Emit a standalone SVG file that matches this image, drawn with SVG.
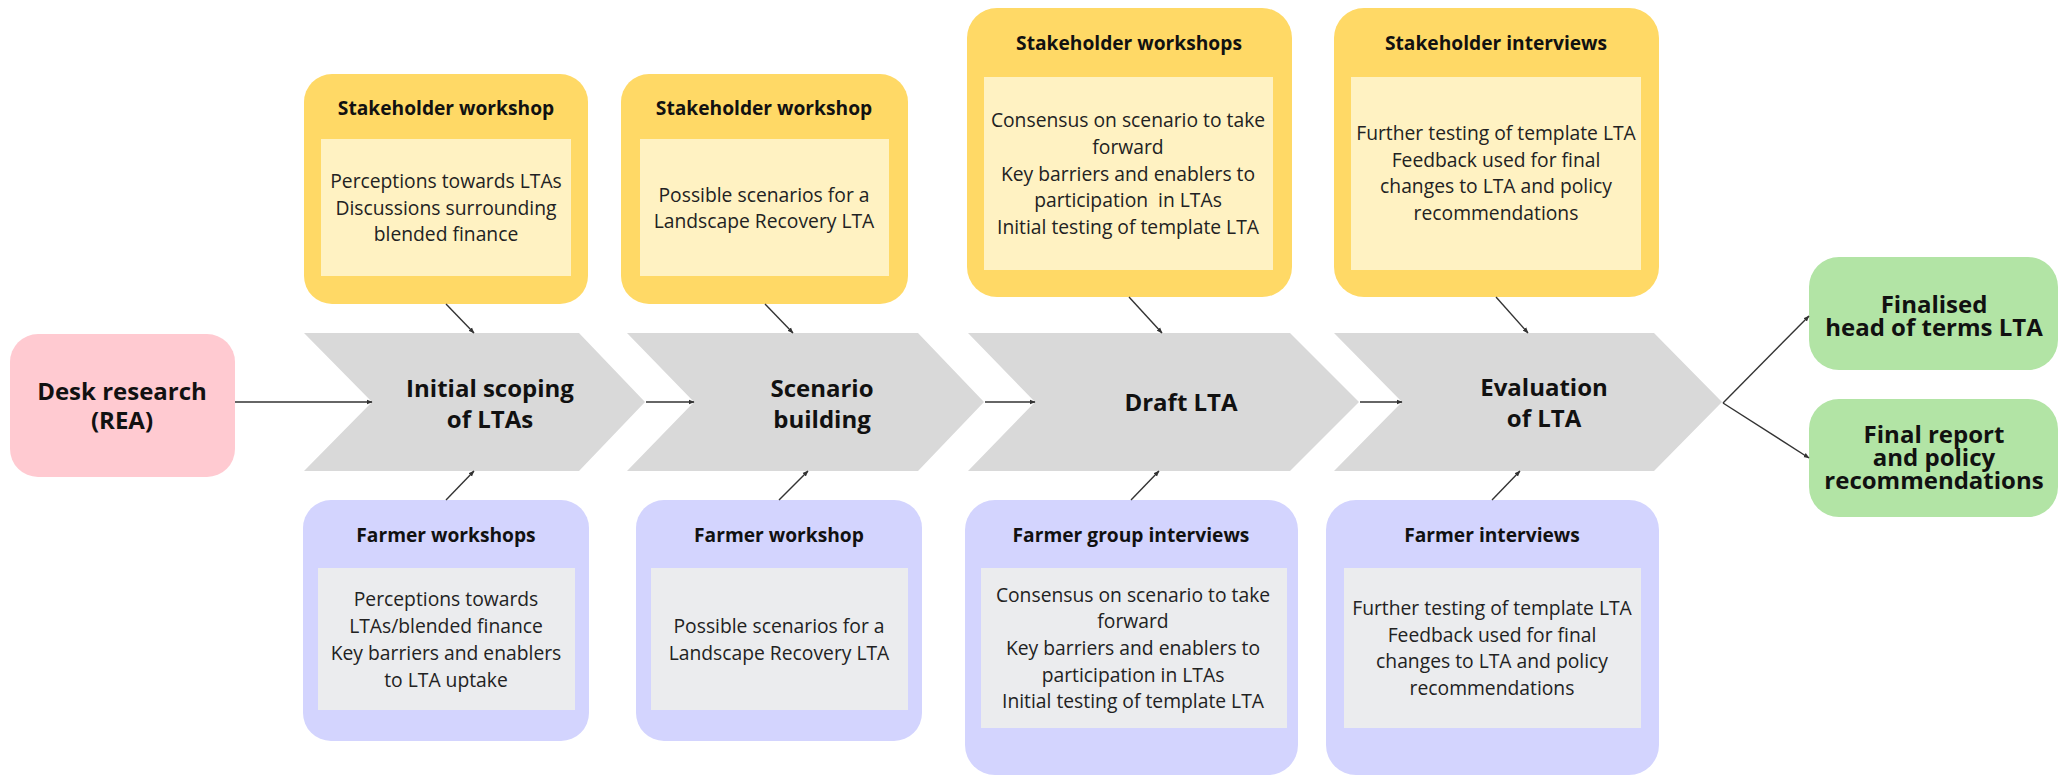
<svg xmlns="http://www.w3.org/2000/svg" width="2064" height="776" viewBox="0 0 2064 776">
  <defs>
    <marker id="arrow" viewBox="0 0 10 10" refX="9" refY="5" markerWidth="6" markerHeight="6" markerUnits="userSpaceOnUse" orient="auto">
      <path d="M0,1 L10,5 L0,9 Z" fill="#333"/>
    </marker>
  </defs>
  <style>
    text { font-family: "Open Sans", "Noto Sans", "Liberation Sans", sans-serif; fill: #111; text-anchor: middle; }
    .title { font-weight: 700; font-size: 19.2px; }
    .body { font-size: 19.3px; fill: #222; }
    .big { font-weight: 700; font-size: 24px; }
    .stake { fill: #FFD966; }
    .stake-in { fill: #FFF2C2; }
    .farm { fill: #D3D4FE; }
    .farm-in { fill: #EBECEE; }
    .step { fill: #D9D9D9; }
    .desk { fill: #FFCAD1; }
    .out { fill: #B2E4A5; }
    .link { stroke: #333; stroke-width: 1.4; fill: none; marker-end: url(#arrow); }
  </style>

  <!-- process chevrons -->
  <g id="step-scoping">
    <polygon class="step" points="304,333 579,333 645,402 579,471 304,471 372,402"/>
    <text class="big" x="490" y="397">Initial scoping</text>
    <text class="big" x="490" y="428">of LTAs</text>
  </g>
  <g id="step-scenario">
    <polygon class="step" points="627,333 918,333 984,402 918,471 627,471 694,402"/>
    <text class="big" x="822" y="397">Scenario</text>
    <text class="big" x="822" y="428">building</text>
  </g>
  <g id="step-draft">
    <polygon class="step" points="968,333 1290,333 1359,402 1290,471 968,471 1035,402"/>
    <text class="big" x="1181" y="411">Draft LTA</text>
  </g>
  <g id="step-evaluation">
    <polygon class="step" points="1334,333 1654,333 1722,402 1654,471 1334,471 1402,402"/>
    <text class="big" x="1544" y="396">Evaluation</text>
    <text class="big" x="1544" y="427">of LTA</text>
  </g>

  <!-- start and outcomes -->
  <g id="desk-research">
    <rect class="desk" x="10" y="334" width="225" height="143" rx="28"/>
    <text class="big" x="122" y="400">Desk research</text>
    <text class="big" x="122" y="429">(REA)</text>
  </g>
  <g id="finalised-lta">
    <rect class="out" x="1809" y="257" width="249" height="113" rx="30"/>
    <text class="big" x="1934" y="313">Finalised</text>
    <text class="big" x="1934" y="336">head of terms LTA</text>
  </g>
  <g id="final-report">
    <rect class="out" x="1809" y="399" width="249" height="118" rx="30"/>
    <text class="big" x="1934" y="443">Final report</text>
    <text class="big" x="1934" y="466">and policy</text>
    <text class="big" x="1934" y="489">recommendations</text>
  </g>

  <!-- stakeholder activities (top row) -->
  <g id="stakeholder-workshop-1">
    <rect class="stake" x="304" y="74" width="284" height="230" rx="28"/>
    <rect class="stake-in" x="321" y="139" width="250" height="137"/>
    <text class="title" x="446" y="115">Stakeholder workshop</text>
    <text class="body" x="446" y="188">Perceptions towards LTAs</text>
    <text class="body" x="446" y="215">Discussions surrounding</text>
    <text class="body" x="446" y="241">blended finance</text>
  </g>
  <g id="stakeholder-workshop-2">
    <rect class="stake" x="621" y="74" width="287" height="230" rx="28"/>
    <rect class="stake-in" x="640" y="139" width="249" height="137"/>
    <text class="title" x="764" y="115">Stakeholder workshop</text>
    <text class="body" x="764" y="202">Possible scenarios for a</text>
    <text class="body" x="764" y="228">Landscape Recovery LTA</text>
  </g>
  <g id="stakeholder-workshops-3">
    <rect class="stake" x="967" y="8" width="325" height="289" rx="30"/>
    <rect class="stake-in" x="984" y="77" width="289" height="193"/>
    <text class="title" x="1129" y="50">Stakeholder workshops</text>
    <text class="body" x="1128" y="127">Consensus on scenario to take</text>
    <text class="body" x="1128" y="154">forward</text>
    <text class="body" x="1128" y="181">Key barriers and enablers to</text>
    <text class="body" x="1128" y="207" xml:space="preserve">participation  in LTAs</text>
    <text class="body" x="1128" y="234">Initial testing of template LTA</text>
  </g>
  <g id="stakeholder-interviews">
    <rect class="stake" x="1334" y="8" width="325" height="289" rx="30"/>
    <rect class="stake-in" x="1351" y="77" width="290" height="193"/>
    <text class="title" x="1496" y="50">Stakeholder interviews</text>
    <text class="body" x="1496" y="140">Further testing of template LTA</text>
    <text class="body" x="1496" y="167">Feedback used for final</text>
    <text class="body" x="1496" y="193">changes to LTA and policy</text>
    <text class="body" x="1496" y="220">recommendations</text>
  </g>

  <!-- farmer activities (bottom row) -->
  <g id="farmer-workshops-1">
    <rect class="farm" x="303" y="500" width="286" height="241" rx="28"/>
    <rect class="farm-in" x="318" y="568" width="257" height="142"/>
    <text class="title" x="446" y="542">Farmer workshops</text>
    <text class="body" x="446" y="606">Perceptions towards</text>
    <text class="body" x="446" y="633">LTAs/blended finance</text>
    <text class="body" x="446" y="660">Key barriers and enablers</text>
    <text class="body" x="446" y="687">to LTA uptake</text>
  </g>
  <g id="farmer-workshop-2">
    <rect class="farm" x="636" y="500" width="286" height="241" rx="28"/>
    <rect class="farm-in" x="651" y="568" width="257" height="142"/>
    <text class="title" x="779" y="542">Farmer workshop</text>
    <text class="body" x="779" y="633">Possible scenarios for a</text>
    <text class="body" x="779" y="660">Landscape Recovery LTA</text>
  </g>
  <g id="farmer-group-interviews">
    <rect class="farm" x="965" y="500" width="333" height="275" rx="30"/>
    <rect class="farm-in" x="981" y="568" width="306" height="160"/>
    <text class="title" x="1131" y="542">Farmer group interviews</text>
    <text class="body" x="1133" y="602">Consensus on scenario to take</text>
    <text class="body" x="1133" y="628">forward</text>
    <text class="body" x="1133" y="655">Key barriers and enablers to</text>
    <text class="body" x="1133" y="682">participation in LTAs</text>
    <text class="body" x="1133" y="708">Initial testing of template LTA</text>
  </g>
  <g id="farmer-interviews">
    <rect class="farm" x="1326" y="500" width="333" height="275" rx="30"/>
    <rect class="farm-in" x="1344" y="568" width="297" height="160"/>
    <text class="title" x="1492" y="542">Farmer interviews</text>
    <text class="body" x="1492" y="615">Further testing of template LTA</text>
    <text class="body" x="1492" y="642">Feedback used for final</text>
    <text class="body" x="1492" y="668">changes to LTA and policy</text>
    <text class="body" x="1492" y="695">recommendations</text>
  </g>

  <!-- connectors -->
  <g id="connectors">
    <line class="link" x1="235" y1="402" x2="372" y2="402"/>
    <line class="link" x1="646" y1="402" x2="694" y2="402"/>
    <line class="link" x1="985" y1="402" x2="1035" y2="402"/>
    <line class="link" x1="1360" y1="402" x2="1402" y2="402"/>
    <line class="link" x1="1723" y1="403" x2="1809" y2="316"/>
    <line class="link" x1="1723" y1="403" x2="1809" y2="458"/>
    <line class="link" x1="446" y1="304" x2="474" y2="333"/>
    <line class="link" x1="765" y1="304" x2="793" y2="333"/>
    <line class="link" x1="1129" y1="297" x2="1162" y2="333"/>
    <line class="link" x1="1496" y1="297" x2="1528" y2="333"/>
    <line class="link" x1="446" y1="500" x2="474" y2="471"/>
    <line class="link" x1="779" y1="500" x2="808" y2="471"/>
    <line class="link" x1="1131" y1="500" x2="1159" y2="471"/>
    <line class="link" x1="1492" y1="500" x2="1520" y2="471"/>
  </g>
</svg>
